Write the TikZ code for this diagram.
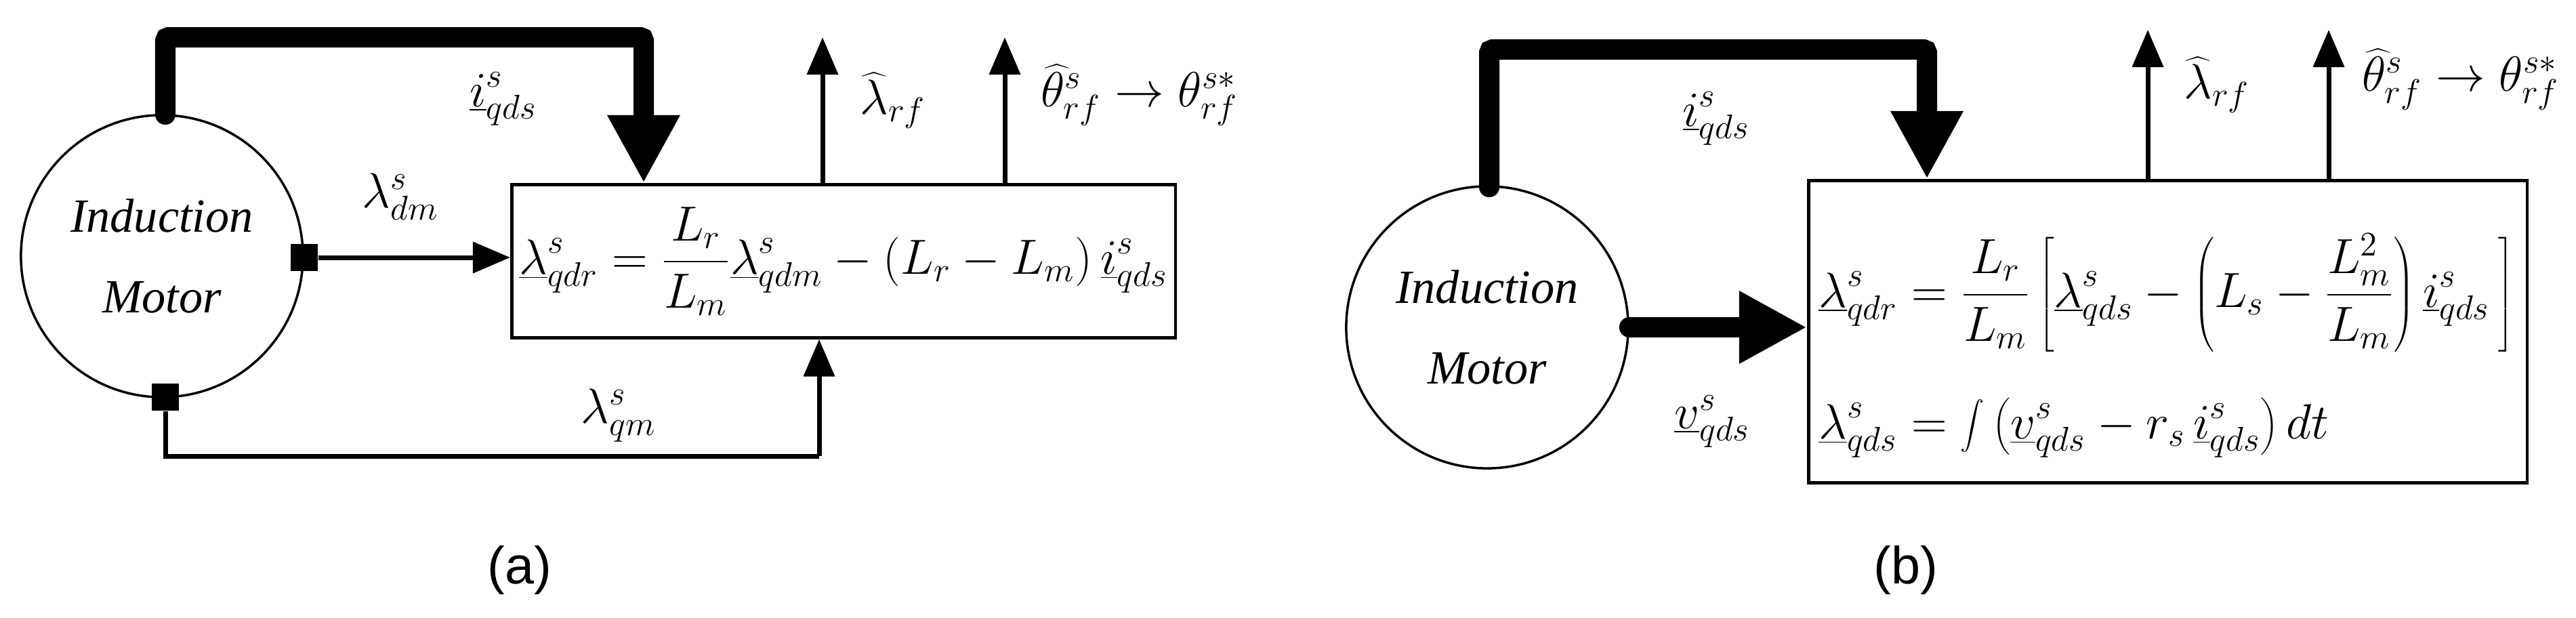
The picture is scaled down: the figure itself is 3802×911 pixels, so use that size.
\documentclass[tikz,border=0pt]{standalone}
\usepackage{fontspec}
\setmainfont{Liberation Serif}
\newfontfamily\capfont{Liberation Sans}
\usetikzlibrary{arrows.meta}
\begin{document}
\begin{tikzpicture}[x=0.01cm,y=-0.01cm,
  motor/.style={circle,draw,line width=0.035cm,minimum size=4.16cm,inner sep=0,align=center,font=\fontsize{20}{34}\selectfont\itshape},
  blk/.style={draw,line width=0.045cm,anchor=north west,inner sep=0},
  fat/.style={line width=0.3cm,-{Triangle[length=1.0cm,width=1.0cm]}},
  thin/.style={line width=0.07cm,-{Triangle[length=0.55cm,width=0.45cm]}},
  plain/.style={line width=0.07cm},
  sq/.style={fill,minimum size=0.4cm,inner sep=0},
  lab/.style={font=\fontsize{20}{24}\selectfont},
  captxt/.style={font=\fontsize{22}{26}\selectfont\capfont}]
\useasboundingbox (0,0) rectangle (3802,911);
% ---------- (a)
\node[motor] (ma) at (239,378) {Induction\\Motor};
\node[blk,minimum width=9.79cm,minimum height=2.26cm] (ba) at (753,270) {};
\node[lab] (ea) at (ba.center) {$\displaystyle \underline{\lambda}^s_{qdr}=\frac{L_r}{L_m}\underline{\lambda}^s_{qdm}-\bigl(L_r-L_m\bigr)\,\underline{i}^s_{qds}$};
\node[sq] (sqa) at (449,380) {};
\node[sq] (sqb) at (244,586) {};
\coordinate (ta) at (244,169);
\coordinate (ca) at (244,55);
\coordinate (cb) at (950,55);
\coordinate (oa1) at (1214,55);
\coordinate (oa2) at (1483,55);
\coordinate (qa1) at (244,673);
\coordinate (qa2) at (1209,673);
\draw[fat,line cap=round,rounded corners=0.05cm] (ta) -- (ca) -- (cb) -- (cb |- ba.north);
\draw[thin] (sqa) -- (ba.west |- sqa);
\draw[plain] (sqb) -- (qa1) -- (qa2);
\draw[thin] (qa2) -- (qa2 |- ba.south);
\draw[thin] (oa1 |- ba.north) -- (oa1);
\draw[thin] (oa2 |- ba.north) -- (oa2);
\node[lab] (la1) at (743,146) {$\underline{i}^s_{qds}$};
\node[lab] (la2) at (591,290) {$\lambda^s_{dm}$};
\node[lab] (la3) at (913,613) {$\lambda^s_{qm}$};
\node[lab] (la4) at (1318,148) {$\widehat{\lambda}_{rf}$};
\node[lab] (la5) at (1682,140) {$\widehat{\theta}^s_{rf}\rightarrow\theta^{s*}_{rf}$};
\node[captxt] (capa) at (767,841) {(a)};
% ---------- (b)
\node[motor] (mb) at (2195,483) {Induction\\Motor};
\node[blk,minimum width=10.6cm,minimum height=4.46cm] (bb) at (2667,264) {};
\node[lab,anchor=west] (eb1) at (2672,432) {$\displaystyle \underline{\lambda}^s_{qdr}=\frac{L_r}{L_m}\left[\underline{\lambda}^s_{qds}-\left(L_s-\frac{L_m^2}{L_m}\right)\underline{i}^s_{qds}\,\right]$};
\node[lab,anchor=west] (eb2) at (2672,631) {$\displaystyle \underline{\lambda}^s_{qds}=\int\left(\underline{v}^s_{qds}-r_s\,\underline{i}^s_{qds}\right)dt$};
\coordinate (tb) at (2198,276);
\coordinate (cc) at (2198,73);
\coordinate (cd) at (2844,73);
\coordinate (ob1) at (3170,44);
\coordinate (ob2) at (3437,44);
\draw[fat,line cap=round,rounded corners=0.05cm] (tb) -- (cc) -- (cd) -- (cd |- bb.north);
\draw[fat,line cap=round] (mb.east) -- (bb.west |- mb.east);
\draw[thin] (ob1 |- bb.north) -- (ob1);
\draw[thin] (ob2 |- bb.north) -- (ob2);
\node[lab] (lb1) at (2533,175) {$\underline{i}^s_{qds}$};
\node[lab] (lb2) at (2527,622) {$\underline{v}^s_{qds}$};
\node[lab] (lb3) at (3272,125) {$\widehat{\lambda}_{rf}$};
\node[lab] (lb4) at (3632,117) {$\widehat{\theta}^s_{rf}\rightarrow\theta^{s*}_{rf}$};
\node[captxt] (capb) at (2813,841) {(b)};
\end{tikzpicture}
\end{document}
